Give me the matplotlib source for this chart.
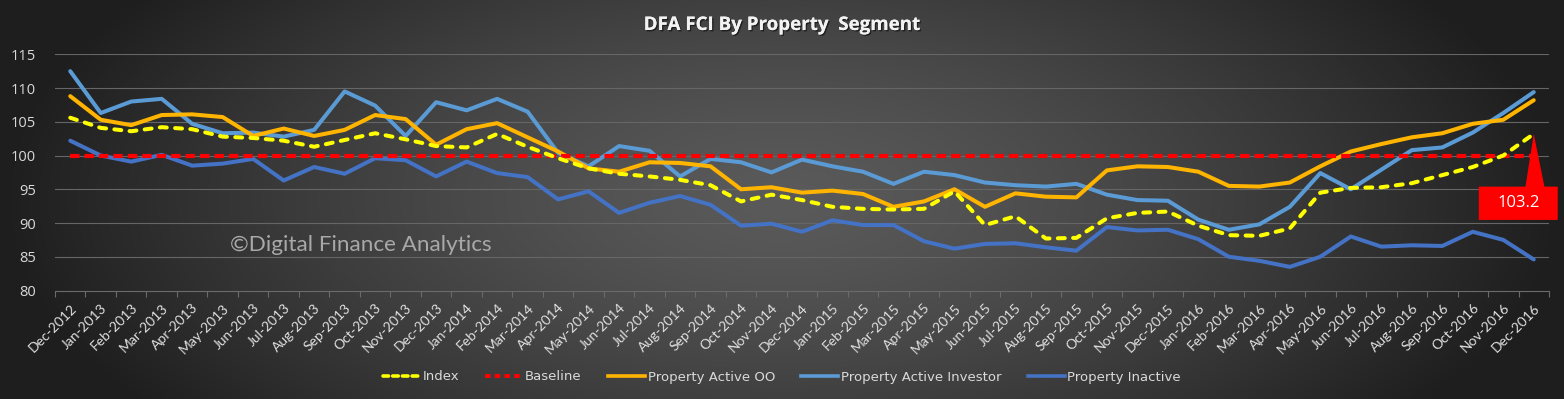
import numpy as np
import matplotlib
matplotlib.use("Agg")
import matplotlib.pyplot as plt
from matplotlib.patches import Polygon
from matplotlib.lines import Line2D
import matplotlib.patheffects as pe

months = ["Dec-2012", "Jan-2013", "Feb-2013", "Mar-2013", "Apr-2013", "May-2013", "Jun-2013",
          "Jul-2013", "Aug-2013", "Sep-2013", "Oct-2013", "Nov-2013", "Dec-2013", "Jan-2014",
          "Feb-2014", "Mar-2014", "Apr-2014", "May-2014", "Jun-2014", "Jul-2014", "Aug-2014",
          "Sep-2014", "Oct-2014", "Nov-2014", "Dec-2014", "Jan-2015", "Feb-2015", "Mar-2015",
          "Apr-2015", "May-2015", "Jun-2015", "Jul-2015", "Aug-2015", "Sep-2015", "Oct-2015",
          "Nov-2015", "Dec-2015", "Jan-2016", "Feb-2016", "Mar-2016", "Apr-2016", "May-2016",
          "Jun-2016", "Jul-2016", "Aug-2016", "Sep-2016", "Oct-2016", "Nov-2016", "Dec-2016"]

index_vals = [105.6, 104.1, 103.6, 104.2, 103.9, 102.8, 102.6, 102.2, 101.3, 102.3, 103.3, 102.4,
              101.4, 101.2, 103.2, 101.3, 99.6, 98.1, 97.3, 96.9, 96.4, 95.6, 93.2, 94.2, 93.4,
              92.4, 92.1, 92.0, 92.1, 94.7, 89.7, 91.0, 87.7, 87.8, 90.7, 91.5, 91.7, 89.6, 88.2,
              88.1, 89.2, 94.5, 95.2, 95.3, 95.9, 97.1, 98.3, 100.0, 103.2]
baseline_vals = [100.0] * 49
active_oo = [108.8, 105.3, 104.5, 106.0, 106.1, 105.7, 102.9, 104.0, 102.9, 103.8, 106.0, 105.4,
             101.6, 103.9, 104.8, 102.7, 100.6, 98.1, 97.6, 99.0, 98.9, 98.4, 95.0, 95.3, 94.5,
             94.8, 94.3, 92.4, 93.2, 95.0, 92.4, 94.4, 93.9, 93.8, 97.8, 98.4, 98.3, 97.6, 95.5,
             95.4, 96.0, 98.4, 100.6, 101.7, 102.7, 103.3, 104.7, 105.3, 108.2]
active_investor = [112.5, 106.3, 108.0, 108.4, 104.7, 103.3, 103.4, 102.8, 103.8, 109.5, 107.4,
                   102.9, 107.9, 106.7, 108.4, 106.5, 100.4, 98.4, 101.4, 100.7, 96.9, 99.5, 99.0,
                   97.5, 99.4, 98.4, 97.6, 95.8, 97.6, 97.1, 96.0, 95.6, 95.4, 95.8, 94.2, 93.4,
                   93.3, 90.5, 89.0, 89.8, 92.4, 97.4, 95.0, 97.9, 100.8, 101.2, 103.4, 106.3, 109.4]
inactive = [102.2, 100.0, 99.1, 100.1, 98.5, 98.8, 99.5, 96.3, 98.3, 97.3, 99.6, 99.3, 96.9, 99.1,
            97.4, 96.8, 93.5, 94.7, 91.5, 93.0, 94.0, 92.7, 89.6, 89.9, 88.7, 90.4, 89.7, 89.7,
            87.3, 86.2, 86.9, 87.0, 86.4, 85.9, 89.4, 88.9, 89.0, 87.6, 85.0, 84.4, 83.5, 85.0,
            88.0, 86.5, 86.7, 86.6, 88.7, 87.5, 84.6]
y_ticks = [80, 85, 90, 95, 100, 105, 110, 115]
callout_text = "103.2"

plt.rcParams['lines.scale_dashes'] = False

W, H, DPI = 1564, 399, 100
fig = plt.figure(figsize=(W / DPI, H / DPI), dpi=DPI)

# background gradient
bg = fig.add_axes([0, 0, 1, 1], zorder=-10)
gx = np.linspace(-1, 1, 400)
gy = np.linspace(-1, 1, 120)
XX, YY = np.meshgrid(gx, gy)
r = np.sqrt(XX ** 2 + (YY * 0.55) ** 2)
r = np.clip(r, 0, 1)
light, dark = 0x5a / 255, 0x1e / 255
val = light - (light - dark) * r ** 1.4
img = np.dstack([val, val, val])
bg.imshow(img, aspect='auto', extent=[0, 1, 0, 1], interpolation='bilinear')
bg.set_axis_off()

L, R, T, B = 55.0, 1549.0, 54.3, 290.5
ax = fig.add_axes([L / W, 1 - B / H, (R - L) / W, (B - T) / H])
ax.patch.set_alpha(0)

LW = 2.9
x = np.arange(len(months))
ax.plot(x, active_investor, color='#5B9BD5', lw=LW, solid_capstyle='round', zorder=3,
        label='Property Active Investor')
ax.plot(x, inactive, color='#4472C4', lw=LW, solid_capstyle='round', zorder=3,
        label='Property Inactive')
ax.plot(x, active_oo, color='#FFB400', lw=LW, solid_capstyle='round', zorder=4,
        label='Property Active OO')
ax.plot(x, baseline_vals, color='#FF0000', lw=3.0, dashes=(6.8, 3.6), zorder=5, label='Baseline')
ax.plot(x, index_vals, color='#FFFF00', lw=LW, dashes=(5.0, 6.0), dash_capstyle='round', zorder=6,
        label='Index')

ax.set_xlim(-0.5, len(months) - 0.5)
ax.set_ylim(80, 115)
ax.set_yticks(y_ticks)
ax.set_yticklabels([str(v) for v in y_ticks], fontsize=10.5, color='#d9d9d9', family='Open Sans')
ax.tick_params(axis='y', length=0, pad=13.5)
ax.set_xticks(x)
ax.set_xticklabels(months, rotation=45, ha='right', rotation_mode='anchor', fontsize=10,
                   color='#e0e0e0', family='Lato')
ax.tick_params(axis='x', which='major', length=0, pad=8)
ax.set_xticks(np.arange(-0.5, len(months), 1), minor=True)
ax.tick_params(axis='x', which='minor', length=4, color='#6b6b6b', width=0.8)
for t in y_ticks[1:]:
    ax.axhline(t, color='#666666', lw=0.8, zorder=1)
for s in ['top', 'right', 'left']:
    ax.spines[s].set_visible(False)
ax.spines['bottom'].set_color('#6b6b6b')
ax.spines['bottom'].set_linewidth(0.8)

# title
fig.text(0.5, 1 - 25 / H, "DFA FCI By Property  Segment", ha='center', va='center',
         fontsize=13.5, fontweight='bold', color='#f2f2f2', family='Open Sans',
         path_effects=[pe.withSimplePatchShadow(offset=(1, -1), shadow_rgbFace='#111111', alpha=0.7),
                       pe.Normal()])

# watermark
ax.text(230 / W, 1 - 245 / H, "\u00a9Digital Finance Analytics", transform=fig.transFigure,
        ha='left', va='center', fontsize=16.2, color='#a8a8a8', family='Lato', zorder=2)

# callout
fig.canvas.draw()
tx, ty = ax.transData.transform((len(months) - 1, index_vals[-1]))
box_l, box_r = tx - 55, tx + 24
box_t, box_b = ty - 52.7, ty - 86
poly = [(tx, ty), (tx + 10.7, box_t), (box_r, box_t), (box_r, box_b), (box_l, box_b), (box_l, box_t),
        (tx - 8.3, box_t)]
fig.patches.append(Polygon(poly, closed=True, transform=None, facecolor='#FF0000', edgecolor='none',
                           zorder=10, figure=fig))
fig.text((box_l + box_r) / 2 / W, (box_t + box_b) / 2 / H, callout_text, ha='center', va='center',
         fontsize=12, color='white', family='Open Sans', zorder=11)

# legend
handles = [
    Line2D([], [], color='#FFFF00', lw=2.6, dashes=(4, 3), dash_capstyle='round'),
    Line2D([], [], color='#FF0000', lw=2.8, dashes=(4, 3)),
    Line2D([], [], color='#FFB400', lw=2.6),
    Line2D([], [], color='#5B9BD5', lw=2.6),
    Line2D([], [], color='#4472C4', lw=2.6),
]
labels = ['Index', 'Baseline', 'Property Active OO', 'Property Active Investor', 'Property Inactive']
leg = fig.legend(handles, labels, loc='center', bbox_to_anchor=(0.5, 1 - 377 / H), ncol=5,
                 frameon=False, handlelength=2.8, handletextpad=0.2, columnspacing=2.0,
                 labelcolor='#d9d9d9', prop={'family': ['Liberation Sans Narrow', 'DejaVu Sans'],
                                             'size': 9.5})

fig.savefig("out.png", dpi=DPI)
